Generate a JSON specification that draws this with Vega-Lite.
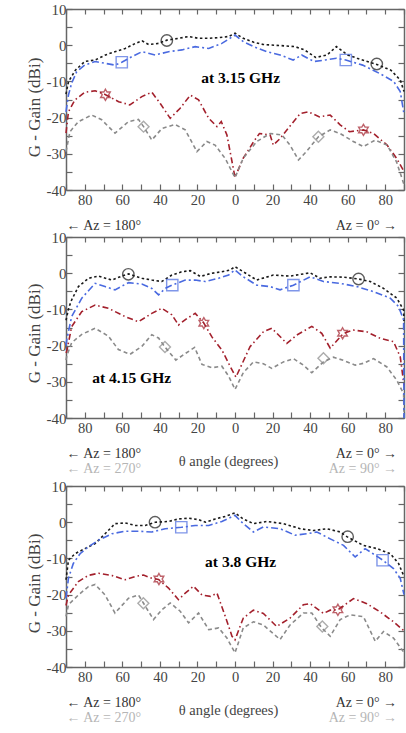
{
  "$schema": "https://vega.github.io/schema/vega-lite/v6.json",
  "bounds": "flush",
  "spacing": 47,
  "padding": {"left": 25, "top": 2, "right": 0, "bottom": 0},
  "config": {
    "view": {"stroke": null},
    "font": "Liberation Serif",
    "axis": {
      "labelFont": "Liberation Serif", "labelFontSize": 14.5, "labelColor": "#444",
      "titleFont": "Liberation Serif", "titleFontSize": 17, "titleColor": "#444", "titleFontWeight": "normal",
      "domainColor": "#666", "domainWidth": 1.5, "tickColor": "#666", "tickWidth": 1.2, "grid": false
    }
  },
  "datasets": {
    "p1": [
      {"s":"black","x":-90,"y":-13.5},{"s":"black","x":-88.7,"y":-10.1},{"s":"black","x":-85,"y":-6.9},{"s":"black","x":-80,"y":-4.5},{"s":"black","x":-74.5,"y":-4.1},{"s":"black","x":-69,"y":-2.7},{"s":"black","x":-64,"y":-1.8},{"s":"black","x":-58.5,"y":-0.9},{"s":"black","x":-53,"y":0.5},{"s":"black","x":-49.5,"y":1.2},{"s":"black","x":-46,"y":0.2},{"s":"black","x":-40.7,"y":0.5},{"s":"black","x":-36.3,"y":1.4},{"s":"black","x":-30,"y":1.9},{"s":"black","x":-24.7,"y":2.4},{"s":"black","x":-19.4,"y":1.9},{"s":"black","x":-14,"y":1.9},{"s":"black","x":-8.7,"y":2.1},{"s":"black","x":-3.4,"y":2.4},{"s":"black","x":0,"y":3.3},{"s":"black","x":4.4,"y":1.9},{"s":"black","x":10,"y":0.8},{"s":"black","x":15,"y":0.2},{"s":"black","x":24,"y":-0.1},{"s":"black","x":32,"y":-0.4},{"s":"black","x":37,"y":-1.3},{"s":"black","x":43,"y":-3.4},{"s":"black","x":49,"y":-2.7},{"s":"black","x":54,"y":-0.4},{"s":"black","x":60,"y":-2.7},{"s":"black","x":65,"y":-3.6},{"s":"black","x":75.5,"y":-5.3},{"s":"black","x":83,"y":-6.9},{"s":"black","x":88,"y":-9.6},{"s":"black","x":90,"y":-12.8},
      {"s":"blue","x":-90,"y":-18.4},{"s":"blue","x":-88.7,"y":-13.8},{"s":"blue","x":-87,"y":-10.5},{"s":"blue","x":-84.3,"y":-7.3},{"s":"blue","x":-80,"y":-5.5},{"s":"blue","x":-74.5,"y":-4.5},{"s":"blue","x":-69.2,"y":-5},{"s":"blue","x":-63.9,"y":-5.5},{"s":"blue","x":-60.3,"y":-4.7},{"s":"blue","x":-55,"y":-3.2},{"s":"blue","x":-49.6,"y":-1.8},{"s":"blue","x":-42.5,"y":-2.7},{"s":"blue","x":-35.4,"y":-1.8},{"s":"blue","x":-28.3,"y":-1.3},{"s":"blue","x":-21.2,"y":-0.4},{"s":"blue","x":-14,"y":-0.9},{"s":"blue","x":-7,"y":0.5},{"s":"blue","x":0,"y":2.8},{"s":"blue","x":4.4,"y":1},{"s":"blue","x":10,"y":-0.4},{"s":"blue","x":17,"y":-1.8},{"s":"blue","x":24,"y":-2.7},{"s":"blue","x":31,"y":-4.1},{"s":"blue","x":35.5,"y":-2.7},{"s":"blue","x":42,"y":-4.5},{"s":"blue","x":48,"y":-4.1},{"s":"blue","x":54,"y":-3.6},{"s":"blue","x":59,"y":-4.1},{"s":"blue","x":68,"y":-5.5},{"s":"blue","x":77,"y":-7.8},{"s":"blue","x":84.5,"y":-10},{"s":"blue","x":88,"y":-12.8},{"s":"blue","x":90,"y":-19},
      {"s":"red","x":-90,"y":-24.3},{"s":"red","x":-88.7,"y":-18.4},{"s":"red","x":-85.2,"y":-15.1},{"s":"red","x":-80,"y":-13},{"s":"red","x":-74.5,"y":-12.6},{"s":"red","x":-69.2,"y":-13.6},{"s":"red","x":-62,"y":-15.6},{"s":"red","x":-56,"y":-16.5},{"s":"red","x":-49.6,"y":-14.2},{"s":"red","x":-44.3,"y":-13},{"s":"red","x":-39.8,"y":-16.1},{"s":"red","x":-34.5,"y":-20.2},{"s":"red","x":-29.2,"y":-17.4},{"s":"red","x":-23.8,"y":-13.8},{"s":"red","x":-19.4,"y":-15.1},{"s":"red","x":-14,"y":-20.2},{"s":"red","x":-9.6,"y":-22.5},{"s":"red","x":-7.3,"y":-21.1},{"s":"red","x":-4.3,"y":-24.8},{"s":"red","x":0,"y":-36.5},{"s":"red","x":4.4,"y":-31.2},{"s":"red","x":10,"y":-26.6},{"s":"red","x":13,"y":-24.4},{"s":"red","x":18.7,"y":-24.8},{"s":"red","x":20.4,"y":-27.6},{"s":"red","x":24,"y":-25.8},{"s":"red","x":29,"y":-22.5},{"s":"red","x":34.7,"y":-18.9},{"s":"red","x":39,"y":-18.4},{"s":"red","x":45,"y":-19.8},{"s":"red","x":50.7,"y":-19.3},{"s":"red","x":56,"y":-22},{"s":"red","x":61,"y":-23.9},{"s":"red","x":68.4,"y":-23.4},{"s":"red","x":73.8,"y":-24.4},{"s":"red","x":81,"y":-27.6},{"s":"red","x":86,"y":-31.2},{"s":"red","x":90,"y":-34.9},
      {"s":"grey","x":-90,"y":-29.4},{"s":"grey","x":-87.9,"y":-23.9},{"s":"grey","x":-83.4,"y":-21.1},{"s":"grey","x":-76.3,"y":-19.3},{"s":"grey","x":-71,"y":-20.6},{"s":"grey","x":-63.9,"y":-24.3},{"s":"grey","x":-56.7,"y":-21.1},{"s":"grey","x":-51.4,"y":-20.5},{"s":"grey","x":-48.7,"y":-22.5},{"s":"grey","x":-44.3,"y":-26.2},{"s":"grey","x":-38.9,"y":-23},{"s":"grey","x":-31.9,"y":-21.9},{"s":"grey","x":-26.5,"y":-23.4},{"s":"grey","x":-20.3,"y":-29.4},{"s":"grey","x":-15,"y":-26.6},{"s":"grey","x":-10.6,"y":-27.6},{"s":"grey","x":-5.2,"y":-31.3},{"s":"grey","x":0,"y":-36.6},{"s":"grey","x":4.4,"y":-31.2},{"s":"grey","x":11.6,"y":-26.6},{"s":"grey","x":18.7,"y":-24.4},{"s":"grey","x":25,"y":-24.8},{"s":"grey","x":29.3,"y":-27.6},{"s":"grey","x":33.8,"y":-31.7},{"s":"grey","x":38,"y":-29.4},{"s":"grey","x":44.4,"y":-25.3},{"s":"grey","x":50.7,"y":-23.4},{"s":"grey","x":56,"y":-24.4},{"s":"grey","x":63,"y":-26.6},{"s":"grey","x":68.4,"y":-28},{"s":"grey","x":74.7,"y":-26.2},{"s":"grey","x":81,"y":-27.6},{"s":"grey","x":86,"y":-32.2},{"s":"grey","x":90,"y":-38.5}
    ],
    "m1": [
      {"s":"black","x":-36.3,"y":1.3},{"s":"black","x":75.5,"y":-5.2},
      {"s":"blue","x":-60.3,"y":-4.7},{"s":"blue","x":59,"y":-4.1},
      {"s":"red","x":-69,"y":-13.7},{"s":"red","x":68.4,"y":-23.4},
      {"s":"grey","x":-48.7,"y":-22.5},{"s":"grey","x":44.4,"y":-25.3}
    ],
    "t1": [{"x":3,"y":-9.1,"label":"at 3.15 GHz"}],
    "p2": [
      {"s":"black","x":-90,"y":-13},{"s":"black","x":-88.5,"y":-9.5},{"s":"black","x":-87,"y":-7.4},{"s":"black","x":-83.4,"y":-3.7},{"s":"black","x":-78,"y":-1.4},{"s":"black","x":-72.7,"y":-0.8},{"s":"black","x":-65.6,"y":-1.9},{"s":"black","x":-60.3,"y":-0.8},{"s":"black","x":-56.7,"y":-0.2},{"s":"black","x":-49.6,"y":-1.4},{"s":"black","x":-44.3,"y":-1.9},{"s":"black","x":-39,"y":-2.3},{"s":"black","x":-33.6,"y":-0.5},{"s":"black","x":-28.3,"y":0.4},{"s":"black","x":-23.8,"y":0.7},{"s":"black","x":-18.5,"y":-0.9},{"s":"black","x":-12.3,"y":0},{"s":"black","x":-7,"y":0.4},{"s":"black","x":-2.5,"y":0.9},{"s":"black","x":0,"y":1.8},{"s":"black","x":4.4,"y":0.4},{"s":"black","x":11.6,"y":-1.9},{"s":"black","x":20.4,"y":-0.5},{"s":"black","x":29.3,"y":-0.8},{"s":"black","x":40,"y":0.1},{"s":"black","x":45.3,"y":-1.4},{"s":"black","x":50.7,"y":-1},{"s":"black","x":57.8,"y":-1.1},{"s":"black","x":65.8,"y":-1.6},{"s":"black","x":72,"y":-2.3},{"s":"black","x":79.1,"y":-4.2},{"s":"black","x":86.2,"y":-6.9},{"s":"black","x":89.8,"y":-10.2},{"s":"black","x":90,"y":-14},
      {"s":"blue","x":-90,"y":-20},{"s":"blue","x":-89.6,"y":-18.4},{"s":"blue","x":-87,"y":-12},{"s":"blue","x":-81.6,"y":-6.9},{"s":"blue","x":-74.5,"y":-2.8},{"s":"blue","x":-69.2,"y":-3.7},{"s":"blue","x":-63.9,"y":-4.6},{"s":"blue","x":-56.7,"y":-2.6},{"s":"blue","x":-49.6,"y":-3},{"s":"blue","x":-44.3,"y":-4.2},{"s":"blue","x":-40.7,"y":-6},{"s":"blue","x":-37.2,"y":-4.2},{"s":"blue","x":-33.6,"y":-3.3},{"s":"blue","x":-26.5,"y":-1.9},{"s":"blue","x":-21.2,"y":-1.9},{"s":"blue","x":-15.8,"y":-2.3},{"s":"blue","x":-8.7,"y":-1.4},{"s":"blue","x":-3.4,"y":-0.5},{"s":"blue","x":0,"y":0.9},{"s":"blue","x":4.4,"y":-1},{"s":"blue","x":11.6,"y":-3.3},{"s":"blue","x":18.7,"y":-3.7},{"s":"blue","x":24,"y":-4.6},{"s":"blue","x":31.1,"y":-3.3},{"s":"blue","x":40,"y":-1},{"s":"blue","x":47.1,"y":-2.3},{"s":"blue","x":56,"y":-2.8},{"s":"blue","x":64.9,"y":-3.7},{"s":"blue","x":73.8,"y":-5.1},{"s":"blue","x":82.7,"y":-6.9},{"s":"blue","x":87.1,"y":-9.2},{"s":"blue","x":89.8,"y":-12.9},{"s":"blue","x":90,"y":-40},
      {"s":"red","x":-90,"y":-22},{"s":"red","x":-89.6,"y":-21.6},{"s":"red","x":-87,"y":-14.8},{"s":"red","x":-81.6,"y":-10.6},{"s":"red","x":-74.5,"y":-8.8},{"s":"red","x":-67.4,"y":-9.7},{"s":"red","x":-58.5,"y":-12},{"s":"red","x":-51.4,"y":-13.4},{"s":"red","x":-44.3,"y":-11.1},{"s":"red","x":-39,"y":-9.7},{"s":"red","x":-33.6,"y":-11.5},{"s":"red","x":-30.1,"y":-14.3},{"s":"red","x":-25.6,"y":-12.5},{"s":"red","x":-21.2,"y":-11.1},{"s":"red","x":-16.7,"y":-13.7},{"s":"red","x":-12.3,"y":-17.6},{"s":"red","x":-7,"y":-21.2},{"s":"red","x":-2.5,"y":-25.8},{"s":"red","x":0.5,"y":-28.7},{"s":"red","x":8,"y":-20.3},{"s":"red","x":15.1,"y":-16.2},{"s":"red","x":19.6,"y":-15.2},{"s":"red","x":27.6,"y":-19.4},{"s":"red","x":32.9,"y":-17.1},{"s":"red","x":40.9,"y":-14.7},{"s":"red","x":46.2,"y":-16.6},{"s":"red","x":50.7,"y":-20.7},{"s":"red","x":57.8,"y":-16.6},{"s":"red","x":63.1,"y":-15.7},{"s":"red","x":70.2,"y":-16.2},{"s":"red","x":77.3,"y":-18},{"s":"red","x":84.4,"y":-18.9},{"s":"red","x":88,"y":-23.1},{"s":"red","x":90,"y":-31},
      {"s":"grey","x":-90,"y":-24},{"s":"grey","x":-89.6,"y":-22.9},{"s":"grey","x":-87,"y":-19.2},{"s":"grey","x":-81.6,"y":-16.9},{"s":"grey","x":-74.5,"y":-15.2},{"s":"grey","x":-67.4,"y":-17.4},{"s":"grey","x":-62.1,"y":-21.1},{"s":"grey","x":-55.9,"y":-22.4},{"s":"grey","x":-49.6,"y":-20.2},{"s":"grey","x":-44.3,"y":-17},{"s":"grey","x":-40.7,"y":-17.9},{"s":"grey","x":-37.3,"y":-20.4},{"s":"grey","x":-31.5,"y":-24},{"s":"grey","x":-26.5,"y":-22.2},{"s":"grey","x":-21.5,"y":-20.5},{"s":"grey","x":-17.6,"y":-25.2},{"s":"grey","x":-12.3,"y":-26.1},{"s":"grey","x":-7,"y":-25.7},{"s":"grey","x":-3.4,"y":-28.4},{"s":"grey","x":0,"y":-32.1},{"s":"grey","x":4.4,"y":-27.5},{"s":"grey","x":9.8,"y":-24.5},{"s":"grey","x":15.1,"y":-25},{"s":"grey","x":19.6,"y":-26.3},{"s":"grey","x":25.8,"y":-24.5},{"s":"grey","x":31.1,"y":-23.6},{"s":"grey","x":36.4,"y":-25.4},{"s":"grey","x":40.9,"y":-27.5},{"s":"grey","x":47.1,"y":-24.5},{"s":"grey","x":52.4,"y":-23.2},{"s":"grey","x":57.8,"y":-24.1},{"s":"grey","x":64,"y":-25.4},{"s":"grey","x":68.4,"y":-24.9},{"s":"grey","x":73.8,"y":-23.6},{"s":"grey","x":80.9,"y":-25.9},{"s":"grey","x":86.2,"y":-29.6},{"s":"grey","x":89.8,"y":-33.3},{"s":"grey","x":90,"y":-40}
    ],
    "m2": [
      {"s":"black","x":-56.8,"y":-0.3},{"s":"black","x":65.8,"y":-1.6},
      {"s":"blue","x":-33.4,"y":-3.3},{"s":"blue","x":31.1,"y":-3.3},
      {"s":"red","x":-16.6,"y":-13.8},{"s":"red","x":57.3,"y":-16.6},
      {"s":"grey","x":-37.3,"y":-20.4},{"s":"grey","x":47.1,"y":-23.5}
    ],
    "t2": [{"x":-55,"y":-28.9,"label":"at 4.15 GHz"}],
    "p3": [
      {"s":"black","x":-90,"y":-15.9},{"s":"black","x":-88.7,"y":-10.5},{"s":"black","x":-85.2,"y":-8.7},{"s":"black","x":-79.9,"y":-7.3},{"s":"black","x":-74.5,"y":-5.9},{"s":"black","x":-69.2,"y":-3.2},{"s":"black","x":-63.9,"y":-0.4},{"s":"black","x":-58.5,"y":-0.2},{"s":"black","x":-53.2,"y":-0.9},{"s":"black","x":-47.9,"y":-0.9},{"s":"black","x":-42.5,"y":0},{"s":"black","x":-35.4,"y":0.2},{"s":"black","x":-30.1,"y":0.9},{"s":"black","x":-24.7,"y":1.1},{"s":"black","x":-19.4,"y":0.7},{"s":"black","x":-15.8,"y":0},{"s":"black","x":-10.5,"y":0.9},{"s":"black","x":-5.2,"y":1.6},{"s":"black","x":0,"y":2.6},{"s":"black","x":4.4,"y":0.9},{"s":"black","x":9.8,"y":-0.4},{"s":"black","x":16.9,"y":0.2},{"s":"black","x":25.8,"y":-0.4},{"s":"black","x":34.7,"y":-1.8},{"s":"black","x":41.8,"y":-2.3},{"s":"black","x":48.9,"y":-1.8},{"s":"black","x":56,"y":-2.7},{"s":"black","x":59.6,"y":-4},{"s":"black","x":68.4,"y":-6.4},{"s":"black","x":75.6,"y":-7.3},{"s":"black","x":82.7,"y":-8.7},{"s":"black","x":87.1,"y":-11.4},{"s":"black","x":90,"y":-15},
      {"s":"blue","x":-90,"y":-21},{"s":"blue","x":-88.7,"y":-15.5},{"s":"blue","x":-86.1,"y":-11.4},{"s":"blue","x":-82.5,"y":-8.7},{"s":"blue","x":-78.1,"y":-6.8},{"s":"blue","x":-72.7,"y":-5},{"s":"blue","x":-65.6,"y":-3.2},{"s":"blue","x":-58.5,"y":-2.5},{"s":"blue","x":-51.4,"y":-2.5},{"s":"blue","x":-44.3,"y":-2.7},{"s":"blue","x":-37.2,"y":-1.8},{"s":"blue","x":-28.5,"y":-1.4},{"s":"blue","x":-21.2,"y":-0.9},{"s":"blue","x":-14,"y":-0.9},{"s":"blue","x":-7,"y":0.2},{"s":"blue","x":0,"y":1.9},{"s":"blue","x":4.4,"y":-0.4},{"s":"blue","x":9.8,"y":-2.7},{"s":"blue","x":15.1,"y":-1.3},{"s":"blue","x":24,"y":-1.8},{"s":"blue","x":32,"y":-3.6},{"s":"blue","x":38.2,"y":-3.2},{"s":"blue","x":43.6,"y":-2.7},{"s":"blue","x":50.7,"y":-4.6},{"s":"blue","x":57.8,"y":-6.4},{"s":"blue","x":64,"y":-9.6},{"s":"blue","x":69.3,"y":-7.3},{"s":"blue","x":78.5,"y":-10.4},{"s":"blue","x":84.4,"y":-12.8},{"s":"blue","x":88,"y":-15.5},{"s":"blue","x":90,"y":-20},
      {"s":"red","x":-90,"y":-23},{"s":"red","x":-88.7,"y":-20.1},{"s":"red","x":-83.4,"y":-16.4},{"s":"red","x":-78.1,"y":-14.7},{"s":"red","x":-72.7,"y":-14.1},{"s":"red","x":-65.6,"y":-14.7},{"s":"red","x":-58.5,"y":-15.9},{"s":"red","x":-53.2,"y":-15},{"s":"red","x":-48.7,"y":-14.6},{"s":"red","x":-44.3,"y":-15.5},{"s":"red","x":-40.7,"y":-15.8},{"s":"red","x":-35.4,"y":-18.2},{"s":"red","x":-30.1,"y":-21.4},{"s":"red","x":-26.5,"y":-19.6},{"s":"red","x":-22.1,"y":-17.7},{"s":"red","x":-17.6,"y":-20.1},{"s":"red","x":-13.1,"y":-20.5},{"s":"red","x":-9.6,"y":-19.6},{"s":"red","x":-5.2,"y":-26},{"s":"red","x":-1.6,"y":-31.5},{"s":"red","x":0,"y":-32.5},{"s":"red","x":4.4,"y":-26.5},{"s":"red","x":9.8,"y":-24.3},{"s":"red","x":15.1,"y":-25.2},{"s":"red","x":22.2,"y":-28.8},{"s":"red","x":29.3,"y":-26.5},{"s":"red","x":36.4,"y":-22.8},{"s":"red","x":40,"y":-22.5},{"s":"red","x":47.1,"y":-25.2},{"s":"red","x":50.7,"y":-24.3},{"s":"red","x":54.8,"y":-24.2},{"s":"red","x":63.1,"y":-21.1},{"s":"red","x":70.2,"y":-22.5},{"s":"red","x":77.3,"y":-24.8},{"s":"red","x":84.4,"y":-27.5},{"s":"red","x":90,"y":-30},
      {"s":"grey","x":-90,"y":-26},{"s":"grey","x":-88.7,"y":-22.8},{"s":"grey","x":-83.4,"y":-20.1},{"s":"grey","x":-78.1,"y":-17.8},{"s":"grey","x":-74.5,"y":-17.2},{"s":"grey","x":-69.2,"y":-20.1},{"s":"grey","x":-63.9,"y":-25.1},{"s":"grey","x":-56.7,"y":-21},{"s":"grey","x":-51.4,"y":-20.1},{"s":"grey","x":-48.7,"y":-22.4},{"s":"grey","x":-43.4,"y":-26.9},{"s":"grey","x":-39,"y":-24.2},{"s":"grey","x":-34.5,"y":-22.3},{"s":"grey","x":-29.2,"y":-24.6},{"s":"grey","x":-24.7,"y":-27.8},{"s":"grey","x":-19.4,"y":-25.1},{"s":"grey","x":-14,"y":-29.7},{"s":"grey","x":-8.7,"y":-29.2},{"s":"grey","x":-4.3,"y":-32},{"s":"grey","x":0,"y":-36.1},{"s":"grey","x":4.4,"y":-29.2},{"s":"grey","x":9.8,"y":-27.5},{"s":"grey","x":15.1,"y":-28.4},{"s":"grey","x":24,"y":-32.4},{"s":"grey","x":29.3,"y":-28.4},{"s":"grey","x":36.4,"y":-25.1},{"s":"grey","x":40.9,"y":-25.1},{"s":"grey","x":46.2,"y":-29.2},{"s":"grey","x":50.7,"y":-31.5},{"s":"grey","x":56,"y":-26.9},{"s":"grey","x":61.3,"y":-25.6},{"s":"grey","x":68.4,"y":-26.1},{"s":"grey","x":74.7,"y":-32.9},{"s":"grey","x":79.1,"y":-30.2},{"s":"grey","x":84.4,"y":-32},{"s":"grey","x":90,"y":-36}
    ],
    "m3": [
      {"s":"black","x":-42.6,"y":0},{"s":"black","x":60,"y":-4},
      {"s":"blue","x":-28.6,"y":-1.4},{"s":"blue","x":78.6,"y":-10.5},
      {"s":"red","x":-40.5,"y":-15.7},{"s":"red","x":54.8,"y":-24.2},
      {"s":"grey","x":-48.8,"y":-22.4},{"s":"grey","x":46.5,"y":-28.8}
    ],
    "t3": [{"x":3,"y":-11,"label":"at 3.8 GHz"}]
  },
  "vconcat": [
    {
      "width": 338, "height": 181,
      "layer": [
        {
          "data": {"name": "p1"},
          "transform": [{"filter": "datum.s == 'red' || datum.s == 'grey'"}],
          "mark": {"type": "line", "strokeWidth": 1.6},
          "encoding": {
            "x": {"field": "x", "type": "quantitative", "scale": {"domain": [-90, 90], "nice": false, "zero": false}, "axis": null},
            "y": {"field": "y", "type": "quantitative", "scale": {"domain": [-40, 10], "nice": false, "zero": false}, "axis": null},
            "color": {"field": "s", "type": "nominal", "scale": {"domain": ["black", "blue", "red", "grey"], "range": ["#1a1a1a", "#4a6ae0", "#a3202c", "#8a8a8a"]}, "legend": null},
            "strokeDash": {"field": "s", "type": "nominal", "scale": {"domain": ["black", "blue", "red", "grey"], "range": [[2.5, 2.5], [7, 3, 2, 3], [6, 3, 1.5, 3], [4, 3]]}, "legend": null}
          }
        },
        {
          "data": {"name": "p1"},
          "transform": [{"filter": "datum.s == 'black' || datum.s == 'blue'"}],
          "mark": {"type": "line", "strokeWidth": 1.6},
          "encoding": {
            "x": {"field": "x", "type": "quantitative", "scale": {"domain": [-90, 90], "nice": false, "zero": false},
              "axis": {"orient": "bottom", "values": [-90,-80,-70,-60,-50,-40,-30,-20,-10,0,10,20,30,40,50,60,70,80,90], "labelExpr": "datum.value % 20 == 0 ? '' + abs(datum.value) : ''", "tickSize": -6, "labelPadding": 9, "labelFlush": false, "labelOverlap": false, "title": null}},
            "y": {"field": "y", "type": "quantitative", "scale": {"domain": [-40, 10], "nice": false, "zero": false},
              "axis": {"orient": "left", "values": [-40,-35,-30,-25,-20,-15,-10,-5,0,5,10], "labelExpr": "datum.value % 10 == 0 ? '' + datum.value : ''", "labelFontSize": 15, "tickSize": -6, "labelPadding": 6, "labelOverlap": false, "title": "G - Gain (dBi)", "titleY": 98, "titleAlign": "center", "titlePadding": 3}},
            "color": {"field": "s", "type": "nominal", "legend": null},
            "strokeDash": {"field": "s", "type": "nominal", "legend": null}
          }
        },
        {
          "data": {"name": "m1"},
          "mark": {"type": "point", "filled": false, "strokeWidth": 1.4},
          "encoding": {
            "x": {"field": "x", "type": "quantitative", "scale": {"domain": [-90, 90], "nice": false, "zero": false},
              "axis": {"orient": "top", "values": [-90,-80,-70,-60,-50,-40,-30,-20,-10,0,10,20,30,40,50,60,70,80,90], "labels": false, "tickSize": -5, "title": null}},
            "y": {"field": "y", "type": "quantitative", "scale": {"domain": [-40, 10], "nice": false, "zero": false},
              "axis": {"orient": "right", "values": [-40,-35,-30,-25,-20,-15,-10,-5,0,5,10], "labels": false, "tickSize": -6, "title": null}},
            "color": {"field": "s", "type": "nominal", "legend": null},
            "shape": {"field": "s", "type": "nominal", "scale": {"domain": ["black", "blue", "red", "grey"], "range": ["circle", "square", "M0,-1L0.289,-0.5L0.866,-0.5L0.577,0L0.866,0.5L0.289,0.5L0,1L-0.289,0.5L-0.866,0.5L-0.577,0L-0.866,-0.5L-0.289,-0.5Z", "diamond"]}, "legend": null},
            "size": {"field": "s", "type": "nominal", "scale": {"domain": ["black", "blue", "red", "grey"], "range": [130, 120, 280, 180]}, "legend": null}
          }
        },
        {
          "data": {"name": "t1"},
          "mark": {"type": "text", "font": "Liberation Serif", "fontWeight": "bold", "fontSize": 15.5, "color": "#000", "align": "center", "baseline": "middle"},
          "encoding": {
            "x": {"field": "x", "type": "quantitative", "scale": {"domain": [-90, 90], "nice": false, "zero": false},
              "axis": {"orient": "bottom", "values": [-90, 86], "labelExpr": "datum.value < 0 ? '← Az = 180°' : 'Az = 0°  →'", "labelAlign": {"condition": {"test": "datum.value < 0", "value": "left"}, "value": "right"}, "ticks": false, "domain": false, "labelPadding": 28, "labelFontSize": 14, "labelFlush": false, "labelOverlap": false, "labelBound": false, "labelColor": "#333", "title": null}},
            "y": {"field": "y", "type": "quantitative", "scale": {"domain": [-40, 10], "nice": false, "zero": false}, "axis": null},
            "text": {"field": "label", "type": "nominal"}
          }
        }
      ],
      "resolve": {"axis": {"x": "independent", "y": "independent"}}
    },
    {
      "width": 338, "height": 202,
      "layer": [
        {
          "data": {"name": "p2"},
          "transform": [{"filter": "datum.s == 'red' || datum.s == 'grey'"}],
          "mark": {"type": "line", "strokeWidth": 1.6},
          "encoding": {
            "x": {"field": "x", "type": "quantitative", "scale": {"domain": [-90, 90], "nice": false, "zero": false},
              "axis": {"orient": "bottom", "offset": -21, "values": [-90, 86], "labelExpr": "datum.value < 0 ? '← Az = 270°' : 'Az = 90° →'", "labelAlign": {"condition": {"test": "datum.value < 0", "value": "left"}, "value": "right"}, "ticks": false, "domain": false, "labelPadding": 43, "labelFontSize": 14, "labelFlush": false, "labelOverlap": false, "labelBound": false, "labelColor": "#b5b5b5", "title": null}},
            "y": {"field": "y", "type": "quantitative", "scale": {"domain": [-40, 10], "nice": false, "zero": false, "range": [181, 0]}, "axis": null},
            "color": {"field": "s", "type": "nominal", "scale": {"domain": ["black", "blue", "red", "grey"], "range": ["#1a1a1a", "#4a6ae0", "#a3202c", "#8a8a8a"]}, "legend": null},
            "strokeDash": {"field": "s", "type": "nominal", "scale": {"domain": ["black", "blue", "red", "grey"], "range": [[2.5, 2.5], [7, 3, 2, 3], [6, 3, 1.5, 3], [4, 3]]}, "legend": null}
          }
        },
        {
          "data": {"name": "p2"},
          "transform": [{"filter": "datum.s == 'black' || datum.s == 'blue'"}],
          "mark": {"type": "line", "strokeWidth": 1.6},
          "encoding": {
            "x": {"field": "x", "type": "quantitative", "scale": {"domain": [-90, 90], "nice": false, "zero": false},
              "axis": {"orient": "bottom", "offset": -21, "values": [-90,-80,-70,-60,-50,-40,-30,-20,-10,0,10,20,30,40,50,60,70,80,90], "labelExpr": "datum.value % 20 == 0 ? '' + abs(datum.value) : ''", "tickSize": -6, "labelPadding": 9, "labelFlush": false, "labelOverlap": false, "title": "θ angle (degrees)", "titleY": 36, "titleX": 162, "titleBaseline": "top", "titleFontSize": 14.5}},
            "y": {"field": "y", "type": "quantitative", "scale": {"domain": [-40, 10], "nice": false, "zero": false, "range": [181, 0]},
              "axis": {"orient": "left", "values": [-40,-35,-30,-25,-20,-15,-10,-5,0,5,10], "labelExpr": "datum.value % 10 == 0 ? '' + datum.value : ''", "labelFontSize": 15, "tickSize": -6, "labelPadding": 6, "labelOverlap": false, "title": "G - Gain (dBi)", "titleY": 96, "titleAlign": "center", "titlePadding": 3}},
            "color": {"field": "s", "type": "nominal", "legend": null},
            "strokeDash": {"field": "s", "type": "nominal", "legend": null}
          }
        },
        {
          "data": {"name": "m2"},
          "mark": {"type": "point", "filled": false, "strokeWidth": 1.4},
          "encoding": {
            "x": {"field": "x", "type": "quantitative", "scale": {"domain": [-90, 90], "nice": false, "zero": false},
              "axis": {"orient": "top", "values": [-90,-80,-70,-60,-50,-40,-30,-20,-10,0,10,20,30,40,50,60,70,80,90], "labels": false, "tickSize": -5, "title": null}},
            "y": {"field": "y", "type": "quantitative", "scale": {"domain": [-40, 10], "nice": false, "zero": false, "range": [181, 0]},
              "axis": {"orient": "right", "values": [-40,-35,-30,-25,-20,-15,-10,-5,0,5,10], "labels": false, "tickSize": -6, "title": null}},
            "color": {"field": "s", "type": "nominal", "legend": null},
            "shape": {"field": "s", "type": "nominal", "scale": {"domain": ["black", "blue", "red", "grey"], "range": ["circle", "square", "M0,-1L0.289,-0.5L0.866,-0.5L0.577,0L0.866,0.5L0.289,0.5L0,1L-0.289,0.5L-0.866,0.5L-0.577,0L-0.866,-0.5L-0.289,-0.5Z", "diamond"]}, "legend": null},
            "size": {"field": "s", "type": "nominal", "scale": {"domain": ["black", "blue", "red", "grey"], "range": [130, 120, 280, 180]}, "legend": null}
          }
        },
        {
          "data": {"name": "t2"},
          "mark": {"type": "text", "font": "Liberation Serif", "fontWeight": "bold", "fontSize": 15.5, "color": "#000", "align": "center", "baseline": "middle"},
          "encoding": {
            "x": {"field": "x", "type": "quantitative", "scale": {"domain": [-90, 90], "nice": false, "zero": false},
              "axis": {"orient": "bottom", "offset": -21, "values": [-90, 86], "labelExpr": "datum.value < 0 ? '← Az = 180°' : 'Az = 0°  →'", "labelAlign": {"condition": {"test": "datum.value < 0", "value": "left"}, "value": "right"}, "ticks": false, "domain": false, "labelPadding": 28, "labelFontSize": 14, "labelFlush": false, "labelOverlap": false, "labelBound": false, "labelColor": "#333", "title": null}},
            "y": {"field": "y", "type": "quantitative", "scale": {"domain": [-40, 10], "nice": false, "zero": false, "range": [181, 0]}, "axis": null},
            "text": {"field": "label", "type": "nominal"}
          }
        }
      ],
      "resolve": {"axis": {"x": "independent", "y": "independent"}}
    },
    {
      "width": 338, "height": 202,
      "layer": [
        {
          "data": {"name": "p3"},
          "transform": [{"filter": "datum.s == 'red' || datum.s == 'grey'"}],
          "mark": {"type": "line", "strokeWidth": 1.6},
          "encoding": {
            "x": {"field": "x", "type": "quantitative", "scale": {"domain": [-90, 90], "nice": false, "zero": false},
              "axis": {"orient": "bottom", "offset": -21, "values": [-90, 86], "labelExpr": "datum.value < 0 ? '← Az = 270°' : 'Az = 90° →'", "labelAlign": {"condition": {"test": "datum.value < 0", "value": "left"}, "value": "right"}, "ticks": false, "domain": false, "labelPadding": 43, "labelFontSize": 14, "labelFlush": false, "labelOverlap": false, "labelBound": false, "labelColor": "#b5b5b5", "title": null}},
            "y": {"field": "y", "type": "quantitative", "scale": {"domain": [-40, 10], "nice": false, "zero": false, "range": [181, 0]}, "axis": null},
            "color": {"field": "s", "type": "nominal", "scale": {"domain": ["black", "blue", "red", "grey"], "range": ["#1a1a1a", "#4a6ae0", "#a3202c", "#8a8a8a"]}, "legend": null},
            "strokeDash": {"field": "s", "type": "nominal", "scale": {"domain": ["black", "blue", "red", "grey"], "range": [[2.5, 2.5], [7, 3, 2, 3], [6, 3, 1.5, 3], [4, 3]]}, "legend": null}
          }
        },
        {
          "data": {"name": "p3"},
          "transform": [{"filter": "datum.s == 'black' || datum.s == 'blue'"}],
          "mark": {"type": "line", "strokeWidth": 1.6},
          "encoding": {
            "x": {"field": "x", "type": "quantitative", "scale": {"domain": [-90, 90], "nice": false, "zero": false},
              "axis": {"orient": "bottom", "offset": -21, "values": [-90,-80,-70,-60,-50,-40,-30,-20,-10,0,10,20,30,40,50,60,70,80,90], "labelExpr": "datum.value % 20 == 0 ? '' + abs(datum.value) : ''", "tickSize": -6, "labelPadding": 9, "labelFlush": false, "labelOverlap": false, "title": "θ angle (degrees)", "titleY": 36, "titleX": 162, "titleBaseline": "top", "titleFontSize": 14.5}},
            "y": {"field": "y", "type": "quantitative", "scale": {"domain": [-40, 10], "nice": false, "zero": false, "range": [181, 0]},
              "axis": {"orient": "left", "values": [-40,-35,-30,-25,-20,-15,-10,-5,0,5,10], "labelExpr": "datum.value % 10 == 0 ? '' + datum.value : ''", "labelFontSize": 15, "tickSize": -6, "labelPadding": 6, "labelOverlap": false, "title": "G - Gain (dBi)", "titleY": 97, "titleAlign": "center", "titlePadding": 3}},
            "color": {"field": "s", "type": "nominal", "legend": null},
            "strokeDash": {"field": "s", "type": "nominal", "legend": null}
          }
        },
        {
          "data": {"name": "m3"},
          "mark": {"type": "point", "filled": false, "strokeWidth": 1.4},
          "encoding": {
            "x": {"field": "x", "type": "quantitative", "scale": {"domain": [-90, 90], "nice": false, "zero": false},
              "axis": {"orient": "top", "values": [-90,-80,-70,-60,-50,-40,-30,-20,-10,0,10,20,30,40,50,60,70,80,90], "labels": false, "tickSize": -5, "title": null}},
            "y": {"field": "y", "type": "quantitative", "scale": {"domain": [-40, 10], "nice": false, "zero": false, "range": [181, 0]},
              "axis": {"orient": "right", "values": [-40,-35,-30,-25,-20,-15,-10,-5,0,5,10], "labels": false, "tickSize": -6, "title": null}},
            "color": {"field": "s", "type": "nominal", "legend": null},
            "shape": {"field": "s", "type": "nominal", "scale": {"domain": ["black", "blue", "red", "grey"], "range": ["circle", "square", "M0,-1L0.289,-0.5L0.866,-0.5L0.577,0L0.866,0.5L0.289,0.5L0,1L-0.289,0.5L-0.866,0.5L-0.577,0L-0.866,-0.5L-0.289,-0.5Z", "diamond"]}, "legend": null},
            "size": {"field": "s", "type": "nominal", "scale": {"domain": ["black", "blue", "red", "grey"], "range": [130, 120, 280, 180]}, "legend": null}
          }
        },
        {
          "data": {"name": "t3"},
          "mark": {"type": "text", "font": "Liberation Serif", "fontWeight": "bold", "fontSize": 15.5, "color": "#000", "align": "center", "baseline": "middle"},
          "encoding": {
            "x": {"field": "x", "type": "quantitative", "scale": {"domain": [-90, 90], "nice": false, "zero": false},
              "axis": {"orient": "bottom", "offset": -21, "values": [-90, 86], "labelExpr": "datum.value < 0 ? '← Az = 180°' : 'Az = 0°  →'", "labelAlign": {"condition": {"test": "datum.value < 0", "value": "left"}, "value": "right"}, "ticks": false, "domain": false, "labelPadding": 28, "labelFontSize": 14, "labelFlush": false, "labelOverlap": false, "labelBound": false, "labelColor": "#333", "title": null}},
            "y": {"field": "y", "type": "quantitative", "scale": {"domain": [-40, 10], "nice": false, "zero": false, "range": [181, 0]}, "axis": null},
            "text": {"field": "label", "type": "nominal"}
          }
        }
      ],
      "resolve": {"axis": {"x": "independent", "y": "independent"}}
    }
  ]
}
